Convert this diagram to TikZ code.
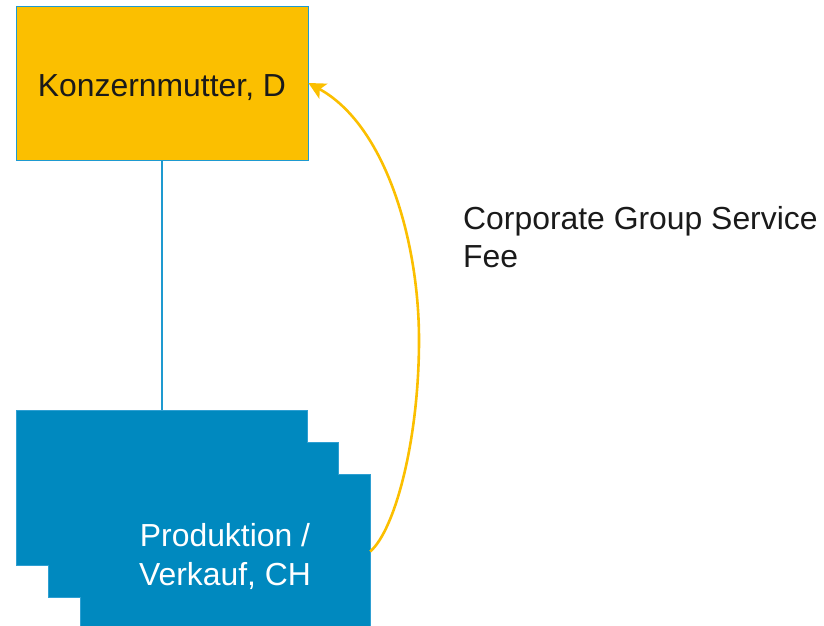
\documentclass[tikz,border=0pt]{standalone}
\usepackage{fontspec}
\setmainfont{Liberation Sans}
\usetikzlibrary{arrows.meta}
\definecolor{gold}{HTML}{FBBF00}
\definecolor{corpblue}{HTML}{0089BF}
\definecolor{edgeblue}{HTML}{1E9AD0}
\definecolor{edgelight}{HTML}{2E9FD2}
\definecolor{txt}{HTML}{1A1A1A}
\tikzset{
  parentbox/.style={draw=edgeblue, line width=0.8bp, fill=gold, minimum width=292bp, minimum height=154bp, inner sep=0pt, text=txt, font=\fontsize{32}{38.5}\selectfont, text height=28bp, text depth=0pt},
  subbox/.style={fill=corpblue, minimum width=290bp, minimum height=155bp, inner sep=0pt},
  subtext/.style={text=white, font=\fontsize{32}{38.5}\selectfont, align=center, inner sep=0pt},
  outline/.style={draw=edgelight, line width=0.6bp},
  link/.style={draw=edgeblue, line width=1.6bp},
  feearrow/.style={draw=gold, line width=2.6bp, -{Stealth[length=17bp,width=17bp,inset=4bp]}},
  lbl/.style={text=txt, font=\fontsize{32}{38.5}\selectfont, align=left, inner sep=0pt}
}
\begin{document}
\begin{tikzpicture}[x=1bp,y=-1bp]
\useasboundingbox (0,0) rectangle (824,626);
\node[parentbox] (konz) at (162,83) {Konzernmutter, D};
\node[subbox] (b1) at (162,487.5) {};
\node[subbox] (b2) at (193.5,519.5) {};
\node[subbox] (b3) at (225,551.5) {};
\node[subtext] (b3t) at ([yshift=-5bp]b3.center) {Produktion /\\Verkauf, CH};
\draw[outline] (b3.south west) -- (b3.west |- b2.south) -- (b2.south west) -- (b2.west |- b1.south) -- (b1.south west) -- (b1.north west) -- (b1.north east) -- (b1.east |- b2.north) -- (b2.north east) -- (b2.east |- b3.north) -- (b3.north east) -- (b3.south east);
\draw[link] (konz.south) -- (b1.north);
\coordinate (apex) at (419,340);
\draw[feearrow] (b3.east) .. controls (395,530) and (419,440) .. (apex) .. controls (419,240) and (385,125) .. (konz.east);
\node[lbl, anchor=west] (fee) at (463,237) {Corporate Group Service\\Fee};
\end{tikzpicture}
\end{document}
